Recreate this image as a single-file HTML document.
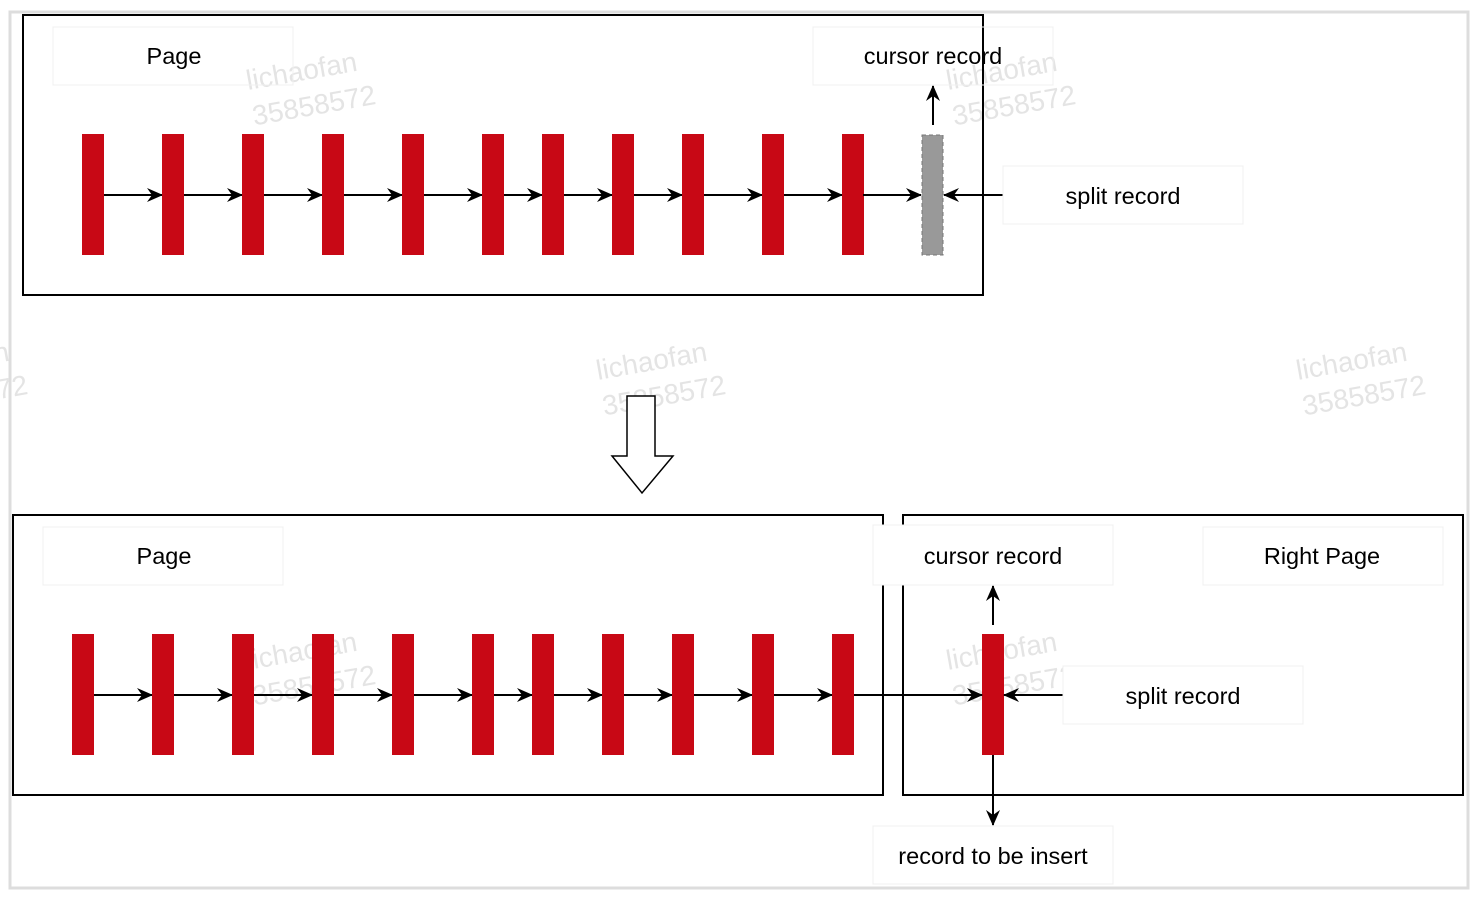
<!DOCTYPE html>
<html><head><meta charset="utf-8"><style>
html,body{margin:0;padding:0;background:#fff;}
svg{display:block;font-family:"Liberation Sans",sans-serif;}
</style></head><body>
<svg id="d" width="1476" height="900" viewBox="0 0 1476 900">
<defs>
<marker id="ah" markerWidth="16" markerHeight="14" refX="15" refY="7" orient="auto" markerUnits="userSpaceOnUse">
<path d="M0,0 L16,7 L0,14 L5,7 z" fill="#000"/></marker>
</defs>
<rect x="10" y="12" width="1458" height="876" fill="#fff" stroke="#ddd" stroke-width="3"/>
<g fill="#e4e4e4" font-size="28">
<g transform="translate(248,90) rotate(-10)"><text>lichaofan</text><text y="36">35858572</text></g>
<g transform="translate(948,90) rotate(-10)"><text>lichaofan</text><text y="36">35858572</text></g>
<g transform="translate(598,380) rotate(-10)"><text>lichaofan</text><text y="36">35858572</text></g>
<g transform="translate(1298,380) rotate(-10)"><text>lichaofan</text><text y="36">35858572</text></g>
<g transform="translate(-100,380) rotate(-10)"><text>lichaofan</text><text y="36">35858572</text></g>
<g transform="translate(248,670) rotate(-10)"><text>lichaofan</text><text y="36">35858572</text></g>
<g transform="translate(948,670) rotate(-10)"><text>lichaofan</text><text y="36">35858572</text></g>
</g>
<rect x="23" y="15" width="960" height="280" fill="none" stroke="#000" stroke-width="2"/>
<rect x="13" y="515" width="870" height="280" fill="none" stroke="#000" stroke-width="2"/>
<rect x="903" y="515" width="560" height="280" fill="none" stroke="#000" stroke-width="2"/>
<g id="top"></g>
<g id="bot"></g>
<rect x="922" y="135" width="21" height="120" fill="#999" stroke="#777" stroke-dasharray="4 3"/>
<line x1="863" y1="195" x2="921" y2="195" stroke="#000" stroke-width="2" marker-end="url(#ah)"/>
<line x1="933" y1="125" x2="933" y2="86" stroke="#000" stroke-width="2" marker-end="url(#ah)"/>
<line x1="1003" y1="195" x2="944" y2="195" stroke="#000" stroke-width="2" marker-end="url(#ah)"/>
<rect x="982" y="634" width="22" height="121" fill="#c80815"/>
<line x1="854" y1="695" x2="982" y2="695" stroke="#000" stroke-width="2" marker-end="url(#ah)"/>
<line x1="993" y1="625" x2="993" y2="586" stroke="#000" stroke-width="2" marker-end="url(#ah)"/>
<line x1="1063" y1="695" x2="1004" y2="695" stroke="#000" stroke-width="2" marker-end="url(#ah)"/>
<line x1="993" y1="755" x2="993" y2="825" stroke="#000" stroke-width="2" marker-end="url(#ah)"/>
<path d="M627,396 L655,396 L655,456 L673,456 L642,493 L612,456 L627,456 Z" fill="#fff" stroke="#000" stroke-width="1.5"/>
<g font-size="23.5" text-anchor="middle" fill="#000">
<rect x="53" y="27" width="240" height="58" fill="none" stroke="#f0f0f0"/>
<text x="174" y="64">Page</text>
<rect x="813" y="27" width="240" height="58" fill="none" stroke="#f0f0f0"/>
<text x="933" y="64">cursor record</text>
<rect x="1003" y="166" width="240" height="58" fill="#fff" stroke="#f0f0f0"/>
<text x="1123" y="204">split record</text>
<rect x="43" y="527" width="240" height="58" fill="none" stroke="#f0f0f0"/>
<text x="164" y="564">Page</text>
<rect x="873" y="525" width="240" height="60" fill="#fff" stroke="#f0f0f0"/>
<text x="993" y="564">cursor record</text>
<rect x="1203" y="527" width="240" height="58" fill="none" stroke="#f0f0f0"/>
<text x="1322" y="564">Right Page</text>
<rect x="1063" y="666" width="240" height="58" fill="#fff" stroke="#f0f0f0"/>
<text x="1183" y="704">split record</text>
<rect x="873" y="826" width="240" height="58" fill="#fff" stroke="#f0f0f0"/>
<text x="993" y="864">record to be insert</text>
</g>
</svg>
<script>
const topRecords=[82,162,242,322,402,482,542,612,682,762,842];
const botRecords=[72,152,232,312,392,472,532,602,672,752,832];
const NS="http://www.w3.org/2000/svg";
function draw(gid,xs,y){
  const g=document.getElementById(gid);
  xs.forEach((x,i)=>{
    const r=document.createElementNS(NS,'rect');
    r.setAttribute('x',x);r.setAttribute('y',y);r.setAttribute('width',22);r.setAttribute('height',121);r.setAttribute('fill','#c80815');
    
    
    g.appendChild(r);
    if(i<xs.length-1){
      const l=document.createElementNS(NS,'line');
      l.setAttribute('x1',x+22);l.setAttribute('x2',xs[i+1]);l.setAttribute('y1',y+61);l.setAttribute('y2',y+61);
      l.setAttribute('stroke','#000');l.setAttribute('stroke-width',2);l.setAttribute('marker-end','url(#ah)');
      
      
      g.appendChild(l);
    }
  });
}
draw('top',topRecords,134);
draw('bot',botRecords,634);
</script>
</body></html>
